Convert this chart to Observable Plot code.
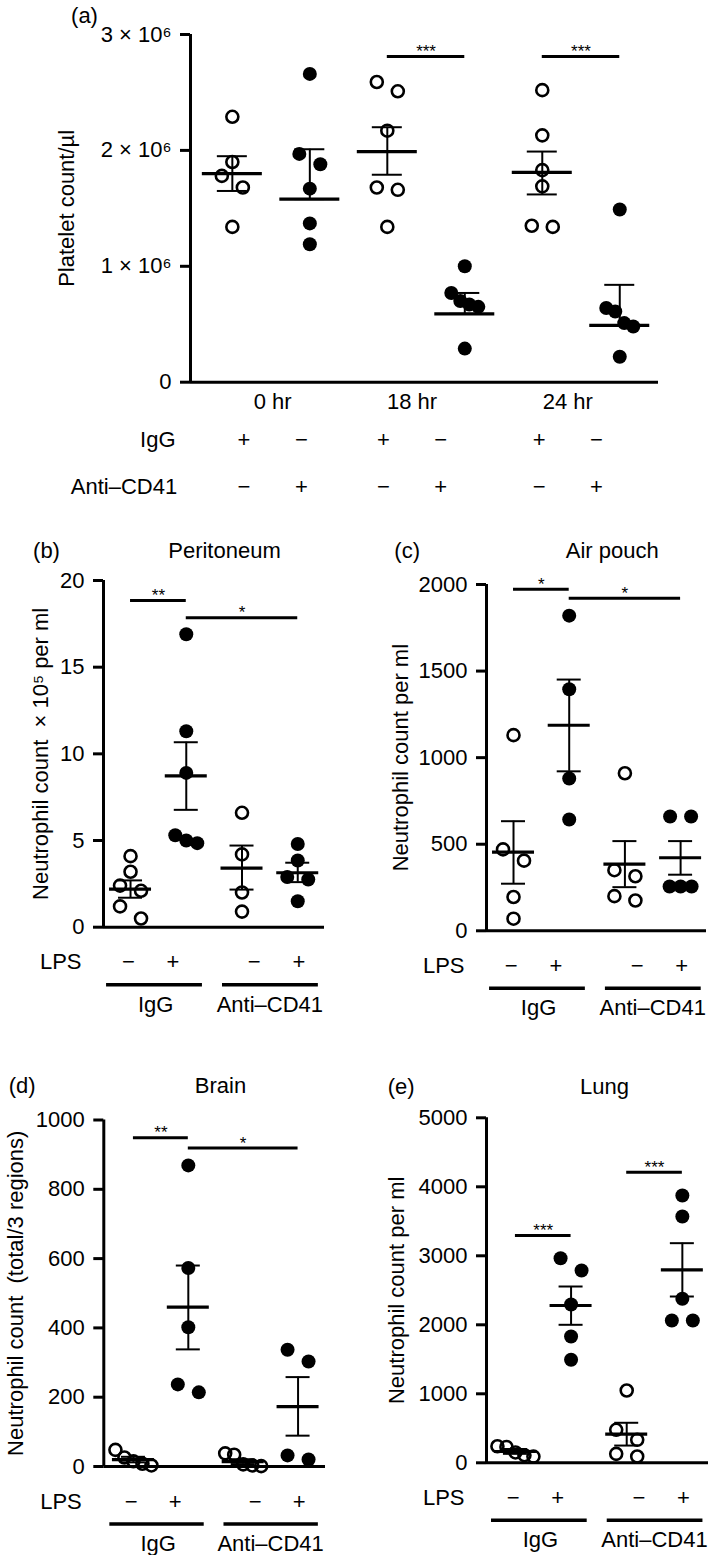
<!DOCTYPE html>
<html>
<head>
<meta charset="utf-8">
<script src="https://cdn.jsdelivr.net/npm/d3@7"></script>
<script src="https://cdn.jsdelivr.net/npm/@observablehq/plot@0.6"></script>
<style>
  html, body { margin: 0; padding: 0; background: #fff; }
  #root { position: relative; width: 709px; height: 1555px; overflow: hidden; background: #fff; }
  #root svg { position: absolute; overflow: visible; }
</style>
</head>
<body>
<div id="root"></div>
<script>
// ======================= DATA =======================
// (a) Platelet count (×10^6 per µl)
const aGroups = ["0 hr", "18 hr", "24 hr"];
const aRowLabels = ["IgG", "Anti–CD41"];
const aPoints = [
  [2.29, 1.90, 1.78, 1.68, 1.34],        // 0 hr IgG
  [2.66, 1.97, 1.88, 1.67, 1.37, 1.19],  // 0 hr Anti-CD41
  [2.59, 2.51, 2.17, 1.68, 1.66, 1.34],  // 18 hr IgG
  [1.00, 0.77, 0.70, 0.67, 0.65, 0.29],  // 18 hr Anti-CD41
  [2.52, 2.13, 1.83, 1.69, 1.35, 1.34],  // 24 hr IgG
  [1.49, 0.64, 0.61, 0.51, 0.48, 0.22]   // 24 hr Anti-CD41
];
const aMean    = [1.80, 1.58, 1.99, 0.59, 1.81, 0.49];
const aSemLow  = [1.65, 1.58, 1.79, 0.59, 1.62, 0.49];
const aSemHigh = [1.95, 2.01, 2.20, 0.77, 1.99, 0.84];
const aSig = [{from: 2, to: 3, y: 2.81, label: "***"}, {from: 4, to: 5, y: 2.81, label: "***"}];
const aTicks = [0, 1, 2, 3];

// shared bottom labels for (b)-(e)
const lpsGroups = ["IgG", "Anti–CD41"];
const lpsSigns = ["−", "+"];

// (b) Peritoneum (×10^5 per ml)
const bPoints = [
  [4.1, 3.2, 2.4, 2.1, 1.2, 0.5],
  [16.9, 11.3, 8.9, 5.3, 5.0, 4.85],
  [6.6, 4.2, 2.0, 0.9],
  [4.8, 3.85, 2.9, 2.75, 1.5]
];
const bMean    = [2.2, 8.73, 3.41, 3.14];
const bSemLow  = [1.7, 6.77, 2.17, 2.6];
const bSemHigh = [2.7, 10.67, 4.71, 3.72];
const bSig = [{from: 0, to: 1, y: 18.85, label: "**"}, {from: 1, to: 3, y: 17.85, label: "*"}];
const bTicks = [0, 5, 10, 15, 20];

// (c) Air pouch (per ml)
const cPoints = [
  [1130, 470, 405, 195, 70],
  [1820, 1395, 880, 643],
  [910, 350, 315, 200, 175],
  [660, 660, 256, 256, 256]
];
const cMean    = [454, 1187, 385, 422];
const cSemLow  = [272, 921, 252, 324];
const cSemHigh = [633, 1451, 518, 518];
const cSig = [{from: 0, to: 1, y: 1973, label: "*"}, {from: 1, to: 3, y: 1921, label: "*"}];
const cTicks = [0, 500, 1000, 1500, 2000];

// (d) Brain (total/3 regions)
const dPoints = [
  [48, 26, 15, 8, 3],
  [869, 573, 402, 237, 214],
  [38, 34, 6, 3, 1],
  [337, 303, 32, 20]
];
const dMean    = [20, 460, 14, 173];
const dSemLow  = [12, 338, 7, 89];
const dSemHigh = [28, 580, 21, 258];
const dSig = [{from: 0, to: 1, y: 949, label: "**"}, {from: 1, to: 3, y: 919, label: "*"}];
const dTicks = [0, 200, 400, 600, 800, 1000];

// (e) Lung (per ml)
const ePoints = [
  [240, 230, 150, 110, 90],
  [2965, 2787, 2294, 1830, 1493],
  [1048, 478, 333, 130, 91],
  [3874, 3570, 2377, 2062, 2062]
];
const eMean    = [164, 2280, 415, 2797];
const eSemLow  = [130, 2000, 250, 2410];
const eSemHigh = [200, 2555, 580, 3183];
const eSig = [{from: 0, to: 1, y: 3294, label: "***"}, {from: 2, to: 3, y: 4212, label: "***"}];
const eTicks = [0, 1000, 2000, 3000, 4000, 5000];

// ======================= LAYOUT / STYLE =======================
const FONT = "'Liberation Sans', Arial, Helvetica, sans-serif";
const FS = 22;
const CLUSTER_PX = 13;

// scatter layout: points closer than CLUSTER_PX vertically form a row, spread horizontally
function swarm(points, pxX, pxY, y0) {
  const out = [];
  points.forEach((vals, i) => {
    const sorted = [...vals].sort((a, b) => b - a);
    const clusters = [];
    sorted.forEach(v => {
      const py = (v - y0) * pxY;
      const last = clusters[clusters.length - 1];
      if (last && last.lastPy - py < CLUSTER_PX) { last.vals.push(v); last.lastPy = py; }
      else clusters.push({vals: [v], lastPy: py});
    });
    clusters.forEach(c => {
      const n = c.vals.length;
      const s = n === 2 ? 21 : n === 3 ? 11 : 9;
      c.vals.forEach((v, k) => {
        const ox = (k - (n - 1) / 2) * s;
        out.push({value: v, x: i + ox / pxX, filled: i % 2 === 1});
      });
    });
  });
  return out;
}

function panel(cfg, d, extra) {
  const {left, top, width, height, mt, mr, mb, ml, xDomain, yDomain} = cfg;
  const pxX = (width - ml - mr) / (xDomain[1] - xDomain[0]);
  const pxY = (height - mt - mb) / (yDomain[1] - yDomain[0]);
  const pts = swarm(d.points, pxX, pxY, yDomain[0]);
  const stats = d.mean.map((m, i) => ({col: i, mean: m, lo: d.lo[i], hi: d.hi[i]}));
  const AX = left + ml, AY = top + mt, BOT = top + height - mb;
  const at = (text, X, Y, o = {}) =>
    Plot.text([text], {text: t => t, frameAnchor: "top-left", dx: X - AX, dy: Y - AY,
                       lineAnchor: "middle", textAnchor: "middle", ...o});
  const yTitle = (text, X) =>
    Plot.text([text], {text: t => t, frameAnchor: "left", rotate: -90, dx: X - AX,
                       textAnchor: "middle", lineAnchor: "middle"});
  const below = (data, opts, dy) =>
    Plot.text(data, {...opts, frameAnchor: "bottom", lineAnchor: "middle", textAnchor: "middle", dy});
  const ctx = {AX, AY, BOT, pxX, pxY, at, yTitle, below};
  const marks = [
    Plot.ruleY([yDomain[0]], {strokeWidth: 3}),
    Plot.ruleX([xDomain[0]], {strokeWidth: 3}),
    Plot.axisY({ticks: d.ticks, tickFormat: d.tickFormat || (v => String(v)), tickSize: 10, tickPadding: 9,
                strokeWidth: 3, label: null, fontSize: FS}),
    Plot.dot(pts.filter(p => !p.filled), {x: "x", y: "value", r: 6, fill: "none", stroke: "black", strokeWidth: 2.6}),
    Plot.dot(pts.filter(p => p.filled), {x: "x", y: "value", r: 7, fill: "black"}),
    Plot.ruleX(stats, {x: "col", y1: "lo", y2: "hi", strokeWidth: 2}),
    Plot.ruleY(stats, {y: "hi", x1: s => s.col - cfg.capHalf / pxX, x2: s => s.col + cfg.capHalf / pxX, strokeWidth: 2}),
    Plot.ruleY(stats, {y: "lo", x1: s => s.col - cfg.capHalf / pxX, x2: s => s.col + cfg.capHalf / pxX, strokeWidth: 2}),
    Plot.ruleY(stats, {y: "mean", x1: s => s.col - cfg.meanHalf / pxX, x2: s => s.col + cfg.meanHalf / pxX, strokeWidth: 3.2}),
    Plot.ruleY(d.sig, {y: "y", x1: "from", x2: "to", strokeWidth: 3}),
    Plot.text(d.sig, {x: s => (s.from + s.to) / 2, y: "y", text: "label", fontSize: 17, dy: -5}),
    ...extra(ctx)
  ];
  const svg = Plot.plot({
    width, height, marginTop: mt, marginRight: mr, marginBottom: mb, marginLeft: ml,
    x: {domain: xDomain, axis: null},
    y: {domain: yDomain, label: null},
    style: {fontFamily: FONT, fontSize: FS + "px", color: "black", background: "transparent", overflow: "visible"},
    marks
  });
  svg.style.left = left + "px";
  svg.style.top = top + "px";
  document.getElementById("root").appendChild(svg);
}

// ---------- (a) ----------
const aShift = [0.02, -0.18, -0.17];
const aSignRows = [];
aGroups.forEach((g, gi) => {
  [0, 1].forEach(t => {
    const xc = 2 * gi + 0.5 + aShift[gi] + (t === 0 ? -0.37 : 0.37);
    aSignRows.push({x: xc, row: 0, sign: t === 0 ? "+" : "−"});
    aSignRows.push({x: xc, row: 1, sign: t === 0 ? "−" : "+"});
  });
});
panel(
  {left: 0, top: 0, width: 709, height: 510, mt: 34, mr: 51, mb: 128.3, ml: 190,
   xDomain: [-0.54, 5.5], yDomain: [0, 3], meanHalf: 30, capHalf: 15},
  {points: aPoints, mean: aMean, lo: aSemLow, hi: aSemHigh, sig: aSig, ticks: aTicks,
   tickFormat: v => v === 0 ? "0" : `${v} × 10⁶`},
  ({at, yTitle, below}) => [
    at("(a)", 84, 15),
    yTitle("Platelet count/µl", 66),
    below(aGroups, {x: (g, i) => 2 * i + 0.5 + aShift[i], text: g => g}, 20),
    below(aSignRows.filter(r => r.row === 0), {x: "x", text: "sign"}, 57.3),
    below(aSignRows.filter(r => r.row === 1), {x: "x", text: "sign"}, 105),
    at(aRowLabels[0], 175, 439, {textAnchor: "end"}),
    at(aRowLabels[1], 176.7, 486.7, {textAnchor: "end"})
  ]
);

// ---------- (b)-(e) shared bottom annotation ----------
const signShift = [-0.14, 0.12];
const ulShift = [-0.07, 0.01];
const lblShift = [-0.05, 0];
function lpsMarks(ctx, yDomain) {
  const signs = [];
  lpsGroups.forEach((g, p) => {
    lpsSigns.forEach((s, k) => signs.push({x: 2 * p + 0.5 + signShift[p] + (k === 0 ? -0.4 : 0.4), sign: s}));
  });
  return [
    ctx.at("LPS", ctx.AX - 22, ctx.BOT + 35, {textAnchor: "end"}),
    ctx.below(signs, {x: "x", text: "sign"}, 35),
    Plot.ruleY(lpsGroups, {y: () => yDomain[0], x1: (g, p) => 2 * p + 0.5 + ulShift[p] - 0.86,
                           x2: (g, p) => 2 * p + 0.5 + ulShift[p] + 0.86, dy: 57.5, strokeWidth: 3.5}),
    ctx.below(lpsGroups, {x: (g, p) => 2 * p + 0.5 + lblShift[p], text: g => g}, 77.5)
  ];
}

// ---------- (b) ----------
const cfgB = {left: 0, top: 530, width: 354, height: 500, mt: 50, mr: 30, mb: 103.3, ml: 103,
              xDomain: [-0.485, 3.48], yDomain: [0, 20], meanHalf: 21, capHalf: 12};
panel(cfgB,
  {points: bPoints, mean: bMean, lo: bSemLow, hi: bSemHigh, sig: bSig, ticks: bTicks},
  ctx => [
    ctx.at("(b)", 46, 550.7),
    ctx.at("Peritoneum", 224, 550.7),
    ctx.yTitle("Neutrophil count  × 10⁵ per ml", 40),
    ...lpsMarks(ctx, cfgB.yDomain)
  ]
);

// ---------- (c) ----------
const cfgC = {left: 354, top: 530, width: 355, height: 500, mt: 54, mr: 3, mb: 99.7, ml: 132,
              xDomain: [-0.485, 3.465], yDomain: [0, 2000], meanHalf: 21, capHalf: 12};
panel(cfgC,
  {points: cPoints, mean: cMean, lo: cSemLow, hi: cSemHigh, sig: cSig, ticks: cTicks},
  ctx => [
    ctx.at("(c)", 406.7, 550.7),
    ctx.at("Air pouch", 611.7, 550.7),
    ctx.yTitle("Neutrophil count per ml", 400),
    ...lpsMarks(ctx, cfgC.yDomain)
  ]
);

// ---------- (d) ----------
const cfgD = {left: 0, top: 1065, width: 354, height: 490, mt: 54.5, mr: 29, mb: 89, ml: 103.3,
              xDomain: [-0.54, 3.5], yDomain: [0, 1000], meanHalf: 21, capHalf: 12};
panel(cfgD,
  {points: dPoints, mean: dMean, lo: dSemLow, hi: dSemHigh, sig: dSig, ticks: dTicks},
  ctx => [
    ctx.at("(d)", 21.7, 1085.7),
    ctx.at("Brain", 220, 1085.7),
    ctx.yTitle("Neutrophil count  (total/3 regions)", 15),
    ...lpsMarks(ctx, cfgD.yDomain)
  ]
);

// ---------- (e) ----------
const cfgE = {left: 354, top: 1065, width: 355, height: 490, mt: 52.3, mr: 1, mb: 92.7, ml: 132,
              xDomain: [-0.52, 3.47], yDomain: [0, 5000], meanHalf: 21, capHalf: 12};
panel(cfgE,
  {points: ePoints, mean: eMean, lo: eSemLow, hi: eSemHigh, sig: eSig, ticks: eTicks},
  ctx => [
    ctx.at("(e)", 400.7, 1086.7),
    ctx.at("Lung", 604, 1086.7),
    ctx.yTitle("Neutrophil count per ml", 396),
    ...lpsMarks(ctx, cfgE.yDomain)
  ]
);
</script>
</body>
</html>
